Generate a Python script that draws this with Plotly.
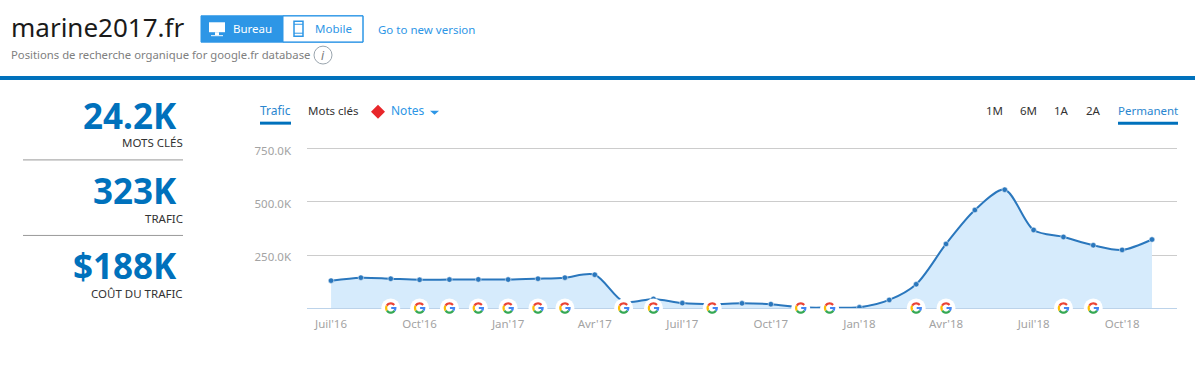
import numpy as np
import plotly.graph_objects as go

W, H = 1195, 387
L, R, T, B = 307, 1177, 146.5, 308.5
FONT = "Noto Sans"
BLUE = "#0071bc"
LINK = "#2d96e6"

dates = ["2016-07-01","2016-08-01","2016-09-01","2016-10-01","2016-11-01","2016-12-01",
         "2017-01-01","2017-02-01","2017-03-01","2017-04-01","2017-05-01","2017-06-01",
         "2017-07-01","2017-08-01","2017-09-01","2017-10-01","2017-11-01","2017-12-01",
         "2018-01-01","2018-02-01","2018-03-01","2018-04-01","2018-05-01","2018-06-01",
         "2018-07-01","2018-08-01","2018-09-01","2018-10-01","2018-11-01"]
traffic = [129000,143000,138000,133000,134000,135000,134000,138000,143000,157000,
           30000,43000,23000,18000,22000,18000,3000,2000,3000,38000,
           112000,302000,462000,558000,368000,335000,296000,274000,323000]
google_dates = ["2016-09-01","2016-10-01","2016-11-01","2016-12-01","2017-01-01","2017-02-01",
                "2017-03-01","2017-05-01","2017-06-01","2017-08-01","2017-11-01","2017-12-01",
                "2018-03-01","2018-04-01","2018-08-01","2018-09-01"]
x_tick_dates = ["2016-07-01","2016-10-01","2017-01-01","2017-04-01","2017-07-01","2017-10-01",
                "2018-01-01","2018-04-01","2018-07-01","2018-10-01"]
x_tick_labels = ["Juil'16","Oct'16","Jan'17","Avr'17","Juil'17","Oct'17","Jan'18","Avr'18","Juil'18","Oct'18"]
y_ticks = [250000, 500000, 750000]
y_tick_labels = ["250.0K", "500.0K", "750.0K"]
stats = [("24.2K", "MOTS CLÉS", 115, 142), ("323K", "TRAFIC", 190, 218), ("$188K", "COÛT DU TRAFIC", 266, 294)]
periods = [("1M", 994), ("6M", 1028), ("1A", 1061), ("2A", 1093)]

def px(x): return (x - L) / (R - L)
def py(y): return (B - y) / (B - T)

annotations, shapes = [], []
def text(x, y, s, size=12, color="#333333", anchor="left", bold=False):
    annotations.append(dict(x=px(x), y=py(y), xref="paper", yref="paper", text=f"<b>{s}</b>" if bold else s,
                            showarrow=False, xanchor=anchor, yanchor="middle", xshift=0, yshift=0,
                            borderpad=0, font=dict(family=FONT, size=size, color=color)))
def rect(x0, y0, x1, y1, fill=None, line=None, width=1):
    shapes.append(dict(type="rect", xref="paper", yref="paper", x0=px(x0), x1=px(x1), y0=py(y0), y1=py(y1),
                       fillcolor=fill or "rgba(0,0,0,0)", line=dict(color=line or "rgba(0,0,0,0)", width=width if line else 0), layer="above"))
def hline(x0, x1, y, color, width=1):
    shapes.append(dict(type="line", xref="paper", yref="paper", x0=px(x0), x1=px(x1), y0=py(y), y1=py(y),
                       line=dict(color=color, width=width), layer="above"))

# header
text(10, 26, "marine2017.fr", 26, "#1a1a1a")
rect(201, 14.5, 283, 41, fill=LINK)
rect(283, 14.5, 363, 41, fill="#ffffff", line=LINK)
rect(201, 14.5, 363, 41, line=LINK)
text(232, 27, "Bureau", 11.5, "#ffffff")
text(314, 27, "Mobile", 11.5, LINK)
text(377, 28, "Go to new version", 11.5, LINK)
text(10, 53, "Positions de recherche organique for google.fr database", 11.3, "#808080")
shapes.append(dict(type="circle", xref="paper", yref="paper", x0=px(314), x1=px(332), y0=py(63), y1=py(45),
                   line=dict(color="#9aa5ae", width=1), fillcolor="#ffffff"))
text(323, 54, "<i>i</i>", 12, "#777777", "center")
rect(0, 75, W, 79, fill=BLUE)
# monitor icon
rect(209, 21, 225, 31, fill="#ffffff")
rect(215, 31, 219, 34, fill="#ffffff")
rect(211, 34, 223, 35, fill="#ffffff")
# phone icon
rect(294, 20, 303, 35, fill="#ffffff", line=LINK, width=1.5)
hline(294, 303, 23, LINK)
hline(294, 303, 32, LINK)

# left stats
for big, small, y1, y2 in stats:
    text(178, y1, big, 35, BLUE, "right", True)
    text(184, y2, small, 11.5, "#333333", "right")
hline(23, 183, 159.5, "#999999")
hline(23, 183, 235.5, "#999999")

# toolbar
text(259, 110, "Trafic", 12, "#2a86cf")
rect(260, 121, 291, 124, fill=BLUE)
text(307, 110, "Mots clés", 11.5, "#333333")
shapes.append(dict(type="path", xref="paper", yref="paper", fillcolor="#e8262a", line=dict(width=0), layer="above",
                   path=f"M{px(371)},{py(111)} L{px(378)},{py(104)} L{px(385)},{py(111)} L{px(378)},{py(118)} Z"))
text(390, 110, "Notes", 12, LINK)
shapes.append(dict(type="path", xref="paper", yref="paper", fillcolor=LINK, line=dict(width=0), layer="above",
                   path=f"M{px(430)},{py(110)} L{px(439)},{py(110)} L{px(434.5)},{py(114)} Z"))
for s, x in periods:
    text(x, 110, s, 11.5, "#333333", "center")
text(1148, 110, "Permanent", 11.5, "#2a86cf", "center")
rect(1118, 121, 1178, 124, fill=BLUE)

fig = go.Figure()
fig.add_trace(go.Scatter(x=dates, y=traffic, mode="lines+markers", fill="tozeroy", fillcolor="#d6ebfc",
                         line=dict(color="#2a77bd", width=2, shape="spline", smoothing=0.85),
                         marker=dict(color="#2a77bd", size=5.5, line=dict(color="#ffffff", width=0.5)),
                         hoverinfo="skip", showlegend=False))
fig.add_trace(go.Scatter(x=google_dates, y=[0]*len(google_dates), mode="markers", cliponaxis=False,
                         marker=dict(color="#ffffff", size=19), hoverinfo="skip", showlegend=False))

# multi-coloured G glyphs, anchored to the data through pixel-sized shapes
def arc(a0, a1, r=4.6):
    t = np.radians(np.linspace(a0, a1, 10))
    return "M" + " L".join(f"{r*np.cos(v):.2f},{r*np.sin(v):.2f}" for v in t)
glyph = [(arc(40, 150), "#ea4335"), (arc(150, 215), "#fbbc05"), (arc(215, 325), "#34a853"),
         (arc(325, 360) + " L0.5,0", "#4285f4")]
for d in google_dates:
    for path, col in glyph:
        shapes.append(dict(type="path", xsizemode="pixel", ysizemode="pixel", xanchor=d, yanchor=0,
                           xref="x", yref="paper", path=path, line=dict(color=col, width=2.2), layer="above"))

fig.update_layout(
    width=W, height=H, paper_bgcolor="#ffffff", plot_bgcolor="#ffffff",
    margin=dict(l=L, r=W - R, t=T, b=H - B, pad=0), showlegend=False,
    annotations=annotations, shapes=shapes, font=dict(family=FONT),
    xaxis=dict(type="date", range=["2016-06-06", "2018-11-27"], tickvals=x_tick_dates, ticktext=x_tick_labels,
               showgrid=False, zeroline=False, showline=False, ticks="", ticklabelstandoff=7,
               tickfont=dict(family=FONT, size=11.5, color="#a3a3a3"), fixedrange=True),
    yaxis=dict(range=[0, 759375], tickvals=y_ticks, ticktext=y_tick_labels, showgrid=True, gridcolor="#cccccc",
               gridwidth=1, zeroline=True, zerolinecolor="#bcd3ea", zerolinewidth=1, showline=False, ticks="",
               ticklabelstandoff=15, ticklabelshift=2, tickfont=dict(family=FONT, size=11.5, color="#a3a3a3"), fixedrange=True),
)
fig.write_html("out.html", config=dict(displayModeBar=False),
               post_script="document.body.style.margin='0';document.body.style.overflow='hidden';")
